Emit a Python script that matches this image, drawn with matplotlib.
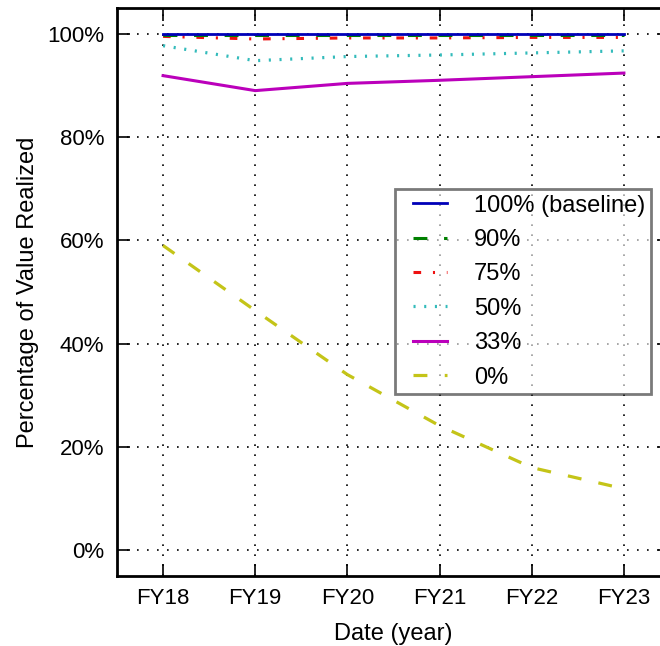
import matplotlib
matplotlib.use("Agg")
import matplotlib.pyplot as plt
from matplotlib.ticker import FuncFormatter
from matplotlib.legend_handler import HandlerLine2D

plt.rcParams['font.family'] = ['Liberation Sans', 'DejaVu Sans']
plt.rcParams['lines.scale_dashes'] = False

years = ['FY18', 'FY19', 'FY20', 'FY21', 'FY22', 'FY23']
baseline = [100.0, 100.0, 100.0, 100.0, 100.0, 100.0]
p90 = [99.7, 99.7, 99.7, 99.7, 99.7, 99.7]
p75 = [99.5, 99.0, 99.2, 99.2, 99.3, 99.3]
p50 = [97.7, 94.8, 95.6, 95.9, 96.3, 96.7]
p33 = [91.9, 89.0, 90.4, 91.0, 91.7, 92.4]
p0 = [59.0, 46.4, 34.0, 24.1, 16.0, 11.9]
labels = ['100% (baseline)', '90%', '75%', '50%', '33%', '0%']


class IndentedLine(HandlerLine2D):
    # legend sample that starts a little in from the left of its box
    def get_xdata(self, legend, xdescent, ydescent, width, height, fontsize):
        xd, xm = super().get_xdata(legend, xdescent, ydescent, width, height, fontsize)
        off = 0.5 * fontsize
        return [xd[0] + off, xd[-1]], [xm[0] + off]


fig = plt.figure(figsize=(6.6, 6.46), dpi=100)
ax = fig.add_axes([117/660, 70/646, 553/660, 568/646])

x = range(len(years))
ax.plot(x, baseline, color='#0000b8', lw=2.0, label=labels[0], zorder=6)
ax.plot(x, p90, color='#008000', lw=2.2, dashes=(10, 12), label=labels[1], zorder=5)
ax.plot(x, p75, color='#ee1111', lw=2.2, dashes=(5.5, 8.5, 1.5, 8.5), label=labels[2], zorder=4)
ax.plot(x, p50, color='#33bbbb', lw=2.3, dashes=(1.5, 6.2), label=labels[3], zorder=3)
ax.plot(x, p33, color='#bb00bb', lw=2.2, label=labels[4], zorder=3)
ax.plot(x, p0, color='#c4c418', lw=2.3, dashes=(10, 12.5), label=labels[5], zorder=3)

ax.set_xlim(-0.5, 5.5)
ax.set_ylim(-5, 105)
ax.set_xticks(list(x))
ax.set_xticklabels(years)
ax.set_yticks([0, 20, 40, 60, 80, 100])
ax.yaxis.set_major_formatter(FuncFormatter(lambda v, p: '%d%%' % v))

ax.grid(True, color='black', lw=1.2, dashes=(1.2, 6))
ax.set_axisbelow(True)
ax.tick_params(direction='in', length=9, width=1.2, top=True, right=True,
               labelsize=16, pad=9)
for s in ax.spines.values():
    s.set_linewidth(2.0)

ax.set_xlabel('Date (year)', fontsize=17, labelpad=10)
ax.set_ylabel('Percentage of Value Realized', fontsize=17, labelpad=6)

leg = ax.legend(loc='upper left', bbox_to_anchor=(0.5027, 0.682), borderaxespad=0,
                fontsize=17, handlelength=1.94, handletextpad=1.15, labelspacing=0.525,
                borderpad=0.25, fancybox=False, framealpha=0.6, edgecolor='#222222',
                handler_map={plt.Line2D: IndentedLine()})
leg.get_frame().set_linewidth(2.0)

fig.savefig('out.png', dpi=100)
